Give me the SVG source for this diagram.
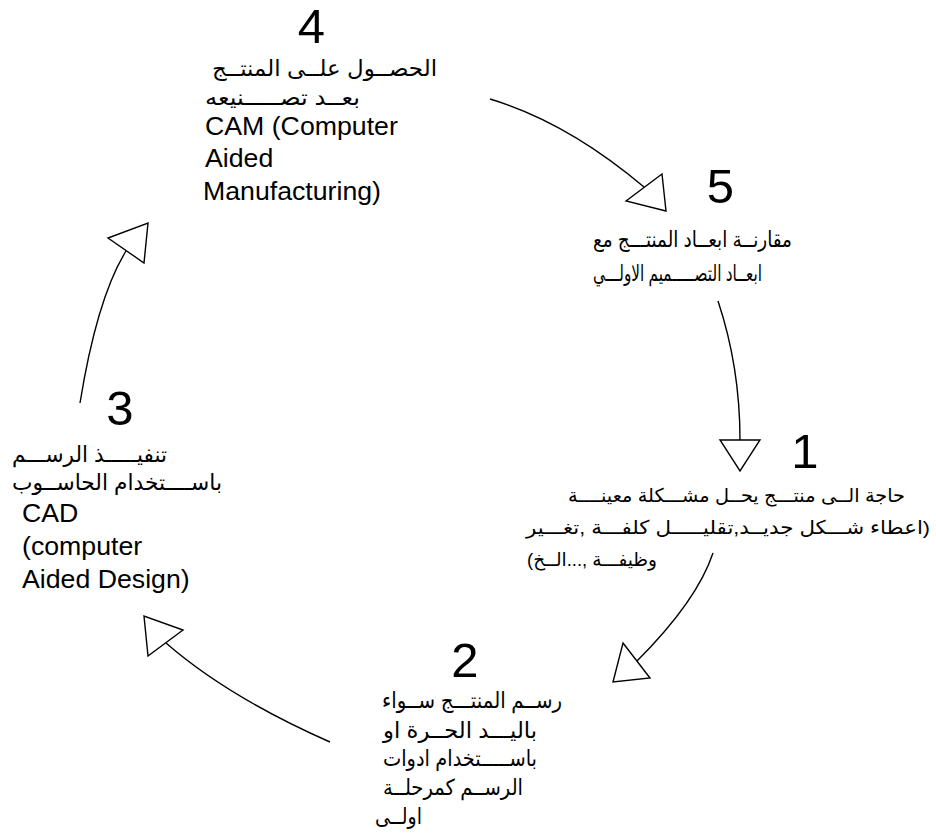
<svg xmlns="http://www.w3.org/2000/svg" width="936" height="837" viewBox="0 0 936 837">
<style>
.num{font-family:"Liberation Sans",Arial,sans-serif;font-size:49px;fill:#000;text-anchor:middle}
.en{font-family:"Liberation Sans",Arial,sans-serif;font-size:26.7px;fill:#000}
.ar{font-family:"Liberation Sans","DejaVu Sans",sans-serif;font-size:22px;fill:#000;text-anchor:end}
.sm{font-size:19px}
.ln{fill:none;stroke:#000;stroke-width:1.4}
.hd{fill:#fff;stroke:#000;stroke-width:1.4;stroke-linejoin:miter}
</style>
<rect width="936" height="837" fill="#fff"/>
<g id="connectors">
<path class="ln" d="M490,99 Q567,122 644,187"/>
<polygon class="hd" points="626,201 662,174 666,211"/>
<path class="ln" d="M718,301 Q740,367 740,440"/>
<polygon class="hd" points="720,440 760,440 740,471"/>
<path class="ln" d="M713,553 Q697,601 637,661"/>
<polygon class="hd" points="623,643 650,678 613,682"/>
<path class="ln" d="M330,742 Q228,697 166,643"/>
<polygon class="hd" points="183,630 148,656 144,616"/>
<path class="ln" d="M80,403 Q97,298 126,251"/>
<polygon class="hd" points="108,238 144,263 148,223"/>
</g>
<g id="node4">
<text class="num" x="311.5" y="43">4</text>
<text class="ar" x="437" y="76" textLength="225" lengthAdjust="spacingAndGlyphs">&#x202B;الحصــول علــى المنتــج&#x202C;</text>
<text class="ar" x="360" y="105" textLength="155" lengthAdjust="spacingAndGlyphs">&#x202B;بعــد تصـــــنيعه&#x202C;</text>
<text class="en" x="205" y="135">CAM (Computer</text>
<text class="en" x="205" y="167">Aided</text>
<text class="en" x="203" y="200">Manufacturing)</text>
</g>
<g id="node5">
<text class="num" x="720.5" y="203">5</text>
<text class="ar" x="792" y="247" textLength="199" lengthAdjust="spacingAndGlyphs">&#x202B;مقارنــة ابعــاد المنتـــج مع&#x202C;</text>
<text class="ar" x="762" y="281" textLength="169" lengthAdjust="spacingAndGlyphs">&#x202B;ابعــاد التصـــــميم الاولـــي&#x202C;</text>
</g>
<g id="node1">
<text class="num" x="805" y="468">1</text>
<text class="ar sm" x="905" y="502" textLength="337" lengthAdjust="spacingAndGlyphs">&#x202B;حاجة الــى منتـــج يحــل مشـــكلة معينــــة&#x202C;</text>
<text class="ar sm" x="930" y="534" textLength="404" lengthAdjust="spacingAndGlyphs">&#x202B;(اعطاء شـــكل جديــد,تقليـــــل كلفـــة ,تغـــير&#x202C;</text>
<text class="ar sm" x="657" y="566" textLength="130" lengthAdjust="spacingAndGlyphs">&#x202B;وظيفـــة ,...الــخ)&#x202C;</text>
</g>
<g id="node2">
<text class="num" x="465" y="677">2</text>
<text class="ar" x="562" y="708" textLength="180" lengthAdjust="spacingAndGlyphs">&#x202B;رســم المنتـــج ســواء&#x202C;</text>
<text class="ar" x="537" y="738" textLength="154" lengthAdjust="spacingAndGlyphs">&#x202B;باليـــد الحــرة او&#x202C;</text>
<text class="ar" x="537" y="766" textLength="154" lengthAdjust="spacingAndGlyphs">&#x202B;باســـــتخدام ادوات&#x202C;</text>
<text class="ar" x="523" y="795" textLength="140" lengthAdjust="spacingAndGlyphs">&#x202B;الرســم كمرحلــة&#x202C;</text>
<text class="ar" x="422" y="824" textLength="47" lengthAdjust="spacingAndGlyphs">&#x202B;اولــى&#x202C;</text>
</g>
<g id="node3">
<text class="num" x="120" y="425">3</text>
<text class="ar" x="167" y="462" textLength="155" lengthAdjust="spacingAndGlyphs">&#x202B;تنفيـــــذ الرســـم&#x202C;</text>
<text class="ar" x="222" y="490" textLength="210" lengthAdjust="spacingAndGlyphs">&#x202B;باســــتخدام الحاســوب&#x202C;</text>
<text class="en" x="22" y="522">CAD</text>
<text class="en" x="22" y="555">(computer</text>
<text class="en" x="22" y="588">Aided Design)</text>
</g>
</svg>
